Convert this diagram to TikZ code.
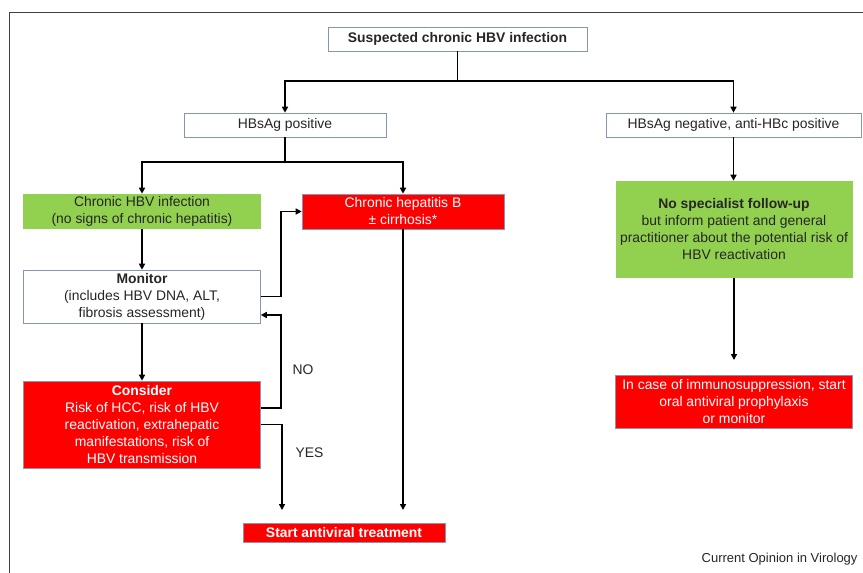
\documentclass[tikz,border=0pt]{standalone}
\usepackage{fontspec}
\setmainfont{Liberation Sans}
\usepackage{tikz}
\usetikzlibrary{arrows.meta, positioning}
\definecolor{greenbox}{HTML}{92D050}
\definecolor{redbox}{HTML}{FF0000}
\definecolor{edgeline}{HTML}{8496B0}
\definecolor{bodytext}{HTML}{262626}
\colorlet{framecol}{black!75}

\begin{document}
\begin{tikzpicture}[x=1bp, y=-1bp, >={Triangle[length=6bp, width=6bp]},
    box/.style={draw=edgeline, line width=0.6bp, inner sep=0pt, align=center, text=bodytext, font=\fontsize{13.9bp}{17bp}\selectfont},
    plainbox/.style={box, fill=white},
    okbox/.style={box, draw=none, fill=greenbox},
    alertbox/.style={box, fill=redbox, text=white},
    flow/.style={->, line width=1.6bp}]
    \useasboundingbox (0,0) rectangle (863,573);
    \draw[framecol, line width=1bp] (9,573) -- (9,13) -- (863,13);

    % top level
    \node[plainbox, minimum width=259bp, minimum height=24bp] (suspect) at (457.5,39) {\textbf{Suspected chronic HBV infection}};
    \node[plainbox, minimum width=202bp, minimum height=24bp] (pos) at (285,125) {HBsAg positive};
    \node[plainbox, minimum width=255bp, minimum height=24bp] (neg) at (733.5,125) {HBsAg negative, anti-HBc positive};

    % HBsAg positive branch
    \node[okbox, minimum width=237bp, minimum height=35bp] (chb) at (142,211.5) {Chronic HBV infection\\(no signs of chronic hepatitis)};
    \node[alertbox, minimum width=202bp, minimum height=35bp] (hepb) at (403,211.5) {Chronic hepatitis B\\± cirrhosis*};
    \node[plainbox, minimum width=237bp, minimum height=53bp] (monitor) at (142,296.5) {\textbf{Monitor}\\(includes HBV DNA, ALT,\\fibrosis assessment)};
    \node[alertbox, minimum width=237bp, minimum height=87bp] (consider) at (142,424.5) {\textbf{Consider}\\Risk of HCC, risk of HBV\\reactivation, extrahepatic\\manifestations, risk of\\HBV transmission};
    \node[alertbox, minimum width=202bp, minimum height=19bp] (start) at (344,532.5) {\textbf{Start antiviral treatment}};

    % HBsAg negative branch
    \node[okbox, minimum width=237bp, minimum height=97bp] (nofollow) at (734,229.5) {\textbf{No specialist follow-up}\\but inform patient and general\\practitioner about the potential risk of\\HBV reactivation};
    \node[alertbox, minimum width=237bp, minimum height=53bp] (immuno) at (734,401.5) {In case of immunosuppression, start\\oral antiviral prophylaxis\\or monitor};

    \node[anchor=west, text=bodytext, font=\fontsize{13.9bp}{17bp}\selectfont] (nolabel) at (289,370) {NO};
    \node[anchor=west, text=bodytext, font=\fontsize{13.9bp}{17bp}\selectfont] (yeslabel) at (292,453) {YES};
    \node[anchor=east, text=bodytext, font=\fontsize{13bp}{16bp}\selectfont] (source) at (861,559) {Current Opinion in Virology};

    \coordinate (yesend) at (282,510);
    \coordinate (hepbend) at (403,510);
    \coordinate (nofollowend) at (734,360);

    % connectors
    \draw[flow] (suspect.south) -- ++(0,30) -| (pos.north);
    \draw[flow] (suspect.south) -- ++(0,30) -| (neg.north);
    \draw[flow] (pos.south) -- ++(0,25) -| (chb.north);
    \draw[flow] (pos.south) -- ++(0,25) -| (hepb.north);
    \draw[flow] (chb) -- (monitor);
    \draw[flow] (monitor.east) -- ++(20,0) |- (hepb.west);
    \draw[flow] (monitor) -- (consider);
    \draw[flow] ([yshift=16.5bp]consider.east) -- ++(20,0) |- ([yshift=-18.5bp]monitor.east);
    \draw[flow] (consider.east) -| (yesend);
    \draw[flow] (hepb.south) -- (hepbend);
    \draw[flow] (neg.south) -- (neg.south |- nofollow.north);
    \draw[flow] (nofollow.south) -- (nofollowend);
\end{tikzpicture}
\end{document}
